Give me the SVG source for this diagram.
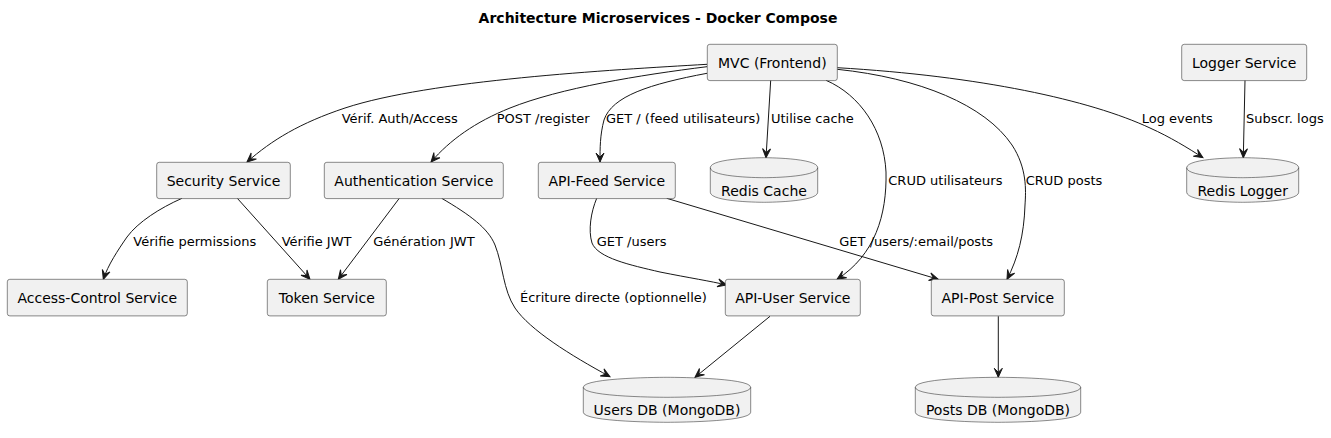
<svg xmlns="http://www.w3.org/2000/svg" width="1331" height="438" viewBox="0 0 1331 438">
<style>
.box{fill:#F1F1F1;stroke:#181818;stroke-width:0.5}
.nt{font-family:"DejaVu Sans",sans-serif;font-size:14px;fill:#000;text-anchor:middle}
.el{font-family:"DejaVu Sans",sans-serif;font-size:13px;fill:#000}
.edge{fill:none;stroke:#181818;stroke-width:1;marker-end:url(#ah)}
.title{font-family:"DejaVu Sans",sans-serif;font-size:14px;font-weight:bold;fill:#000;text-anchor:middle}
</style>
<defs>
<marker id="ah" viewBox="-10 -5 11 10" refX="0" refY="0" markerWidth="11" markerHeight="10" markerUnits="userSpaceOnUse" orient="auto">
<path d="M0,0 L-9,-4 L-5,0 L-9,4 Z" fill="#181818" stroke="#181818" stroke-width="1"/>
</marker>
</defs>
<rect width="1331" height="438" fill="#FFFFFF"/>
<text class="title" x="658" y="23">Architecture Microservices - Docker Compose</text>

<g id="connectors">
<path class="edge" d="M707,64.3 C610,70 430,80 345,108 C300,123 272,140 247,162"/>
<path class="edge" d="M707,66.7 C640,75 560,88 510,108 C475,122 450,140 431,162"/>
<path class="edge" d="M707,73.3 C650,84 612,96 604,120 C600,135 600,148 600,162"/>
<path class="edge" d="M770.7,80.3 L766,157.7"/>
<path class="edge" d="M826,80.3 C860,95 884,130 886,172 C887,215 875,255 837,279.3"/>
<path class="edge" d="M837.3,69.3 C920,78 985,105 1012,145 C1027,168 1026,190 1025,205 C1024,235 1018,258 1007,279.3"/>
<path class="edge" d="M837.3,67.7 C980,76 1090,100 1150,128 C1170,137 1188,148 1203,157.7"/>
<path class="edge" d="M1245,80.3 L1243.3,157.7"/>
<path class="edge" d="M182,198.3 C160,208 138,222 127,237 C118,250 108,265 103.3,279.3"/>
<path class="edge" d="M237.3,198.3 L310,279.3"/>
<path class="edge" d="M399.3,198.3 L338.3,279.3"/>
<path class="edge" d="M441.7,198.3 C470,215 488,228 495,245 C503,265 503,290 515,308 C530,330 570,355 610,376.7"/>
<path class="edge" d="M596.7,198.3 C591,212 588,230 592,243 C598,258 630,265 660,272 C690,278 710,281 726.7,285"/>
<path class="edge" d="M666.7,198.3 L938.3,279.3"/>
<path class="edge" d="M770,316.3 L695,377.3"/>
<path class="edge" d="M998.3,316.3 L998.3,377.3"/>
<text class="el" x="341.7" y="123">Vérif. Auth/Access</text>
<text class="el" x="496.7" y="123">POST /register</text>
<text class="el" x="606" y="123">GET / (feed utilisateurs)</text>
<text class="el" x="771" y="123">Utilise cache</text>
<text class="el" x="888.3" y="185">CRUD utilisateurs</text>
<text class="el" x="1025.7" y="185">CRUD posts</text>
<text class="el" x="1141.7" y="123">Log events</text>
<text class="el" x="1246" y="123">Subscr. logs</text>
<text class="el" x="133.3" y="246">Vérifie permissions</text>
<text class="el" x="281.7" y="246">Vérifie JWT</text>
<text class="el" x="373.3" y="246">Génération JWT</text>
<text class="el" x="520" y="302">Écriture directe (optionnelle)</text>
<text class="el" x="596.7" y="246">GET /users</text>
<text class="el" x="839.3" y="246">GET /users/:email/posts</text>
</g>

<g id="mvc"><rect class="box" x="707.3" y="44.3" width="130" height="36.3" rx="2.5"/><text class="nt" x="772.3" y="67.5">MVC (Frontend)</text></g>
<g id="logger"><rect class="box" x="1181.7" y="44.3" width="125" height="36.3" rx="2.5"/><text class="nt" x="1244.2" y="67.5">Logger Service</text></g>
<g id="security"><rect class="box" x="156.7" y="162.3" width="133.6" height="36.3" rx="2.5"/><text class="nt" x="223.5" y="185.5">Security Service</text></g>
<g id="auth"><rect class="box" x="324.3" y="162.3" width="179" height="36.3" rx="2.5"/><text class="nt" x="413.8" y="185.5">Authentication Service</text></g>
<g id="feed"><rect class="box" x="538.3" y="162.3" width="137" height="36.3" rx="2.5"/><text class="nt" x="606.8" y="185.5">API-Feed Service</text></g>
<g id="rediscache"><path class="box" d="M710.3,167.7 C710.3,157.7 764,157.7 764,157.7 C764,157.7 817.7,157.7 817.7,167.7 L817.7,192.3 C817.7,202.3 764,202.3 764,202.3 C764,202.3 710.3,202.3 710.3,192.3 Z"/><path class="box" style="fill:none" d="M710.3,167.7 C710.3,177.7 764,177.7 764,177.7 C764,177.7 817.7,177.7 817.7,167.7"/><text class="nt" x="764" y="195.5">Redis Cache</text></g>
<g id="redislogger"><path class="box" d="M1186.7,167.7 C1186.7,157.7 1242.7,157.7 1242.7,157.7 C1242.7,157.7 1298.7,157.7 1298.7,167.7 L1298.7,192.3 C1298.7,202.3 1242.7,202.3 1242.7,202.3 C1242.7,202.3 1186.7,202.3 1186.7,192.3 Z"/><path class="box" style="fill:none" d="M1186.7,167.7 C1186.7,177.7 1242.7,177.7 1242.7,177.7 C1242.7,177.7 1298.7,177.7 1298.7,167.7"/><text class="nt" x="1242.7" y="195.5">Redis Logger</text></g>
<g id="access"><rect class="box" x="7.3" y="279.3" width="180" height="36.6" rx="2.5"/><text class="nt" x="97.3" y="302.6">Access-Control Service</text></g>
<g id="token"><rect class="box" x="267.3" y="279.3" width="119" height="36.6" rx="2.5"/><text class="nt" x="326.8" y="302.6">Token Service</text></g>
<g id="apiuser"><rect class="box" x="725.3" y="279.3" width="135" height="36.6" rx="2.5"/><text class="nt" x="792.8" y="302.6">API-User Service</text></g>
<g id="apipost"><rect class="box" x="931.3" y="279.3" width="133" height="36.6" rx="2.5"/><text class="nt" x="997.8" y="302.6">API-Post Service</text></g>
<g id="usersdb"><path class="box" d="M583.3,387.3 C583.3,377.3 667,377.3 667,377.3 C667,377.3 750.7,377.3 750.7,387.3 L750.7,412.3 C750.7,422.3 667,422.3 667,422.3 C667,422.3 583.3,422.3 583.3,412.3 Z"/><path class="box" style="fill:none" d="M583.3,387.3 C583.3,397.3 667,397.3 667,397.3 C667,397.3 750.7,397.3 750.7,387.3"/><text class="nt" x="667" y="414.5">Users DB (MongoDB)</text></g>
<g id="postsdb"><path class="box" d="M915.3,387.3 C915.3,377.3 998,377.3 998,377.3 C998,377.3 1080.7,377.3 1080.7,387.3 L1080.7,412.3 C1080.7,422.3 998,422.3 998,422.3 C998,422.3 915.3,422.3 915.3,412.3 Z"/><path class="box" style="fill:none" d="M915.3,387.3 C915.3,397.3 998,397.3 998,397.3 C998,397.3 1080.7,397.3 1080.7,387.3"/><text class="nt" x="998" y="414.5">Posts DB (MongoDB)</text></g>
</svg>
